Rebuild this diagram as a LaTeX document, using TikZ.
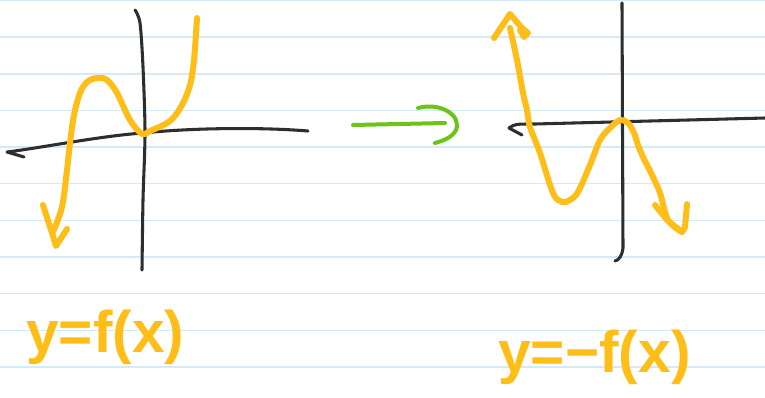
\documentclass[tikz,border=0pt]{standalone}
\usepackage{fontspec}
\setmainfont{Liberation Sans}
\definecolor{ruleblue}{HTML}{D4EAF7}
\definecolor{axisgray}{HTML}{2E2E2E}
\definecolor{pen}{HTML}{FFBE17}
\definecolor{grn}{HTML}{6CC417}
\begin{document}
\begin{tikzpicture}[x=0.75pt,y=-0.75pt,
  axisline/.style={draw=axisgray, line width=2.3pt, line cap=round, line join=round},
  curve/.style={draw=pen, line width=4.5pt, line cap=round, line join=round},
  maparrow/.style={draw=grn, line width=3pt, line cap=round, line join=round},
  label/.style={anchor=base west, text=pen, inner sep=0pt, font=\fontsize{44}{44}\selectfont\bfseries}]
\useasboundingbox (0,0) rectangle (765,397);
\fill[white] (0,0) rectangle (765,397);
\foreach \k in {0,...,10} \draw[ruleblue, line width=1.1pt] (0,0.5+36.65*\k) -- (765,0.5+36.65*\k);

% left graph: axes
\draw[axisline] plot[smooth] coordinates {(135,10) (140,23) (143,67) (145,133) (143,200) (142,270)};
\draw[axisline] (24,157) -- (7,152) .. controls (40,148) and (100,136) .. (143,133) .. controls (190,128) and (260,127) .. (308,131);
% left graph: curve
\draw[curve] plot[smooth, tension=0.55] coordinates {(53,232) (62,207) (67,170) (70,143) (74,115) (80,93) (87,82) (97,78) (107,80) (117,93) (130,120) (142,134) (150,131) (170,121) (182,105) (190,85) (194,60) (197,18)};
\draw[curve] (43,205) -- (52,233) -- (56,246) -- (67,229);

% green mapping arrow
\draw[maparrow] (353,125) -- (445,123);
\draw[maparrow] (418,108) .. controls (440,102) and (462,115) .. (456,130) .. controls (452,138) and (442,141) .. (435,143);

% right graph: axes
\draw[axisline] (622,3) -- (623,248) .. controls (622,256) and (619,260) .. (615,261);
\draw[axisline] (522,135) -- (509,128) .. controls (515,124) .. (535,124) -- (765,118);
% right graph: curve
\draw[curve] plot[smooth, tension=0.55] coordinates {(510,28) (517,60) (523,93) (527,110) (530,127) (540,153) (553,193) (562,202) (570,200) (578,192) (590,165) (600,140) (610,128) (620,120) (628,123) (634,133) (638,145) (643,157) (652,175) (660,193) (668,220) (682,232)};
\draw[curve] (494,38) -- (510,14) -- (522,28) -- (528,33) -- (524,37) -- (520,30);
\draw[curve] (655,205) -- (667,220) -- (682,232) -- (685,227) -- (687,204);

% labels
\node[label] (lhs) at (26,352) {y=f(x)};
\node[label] (rhs) at (498,372) {y=−f(x)};
\end{tikzpicture}
\end{document}
